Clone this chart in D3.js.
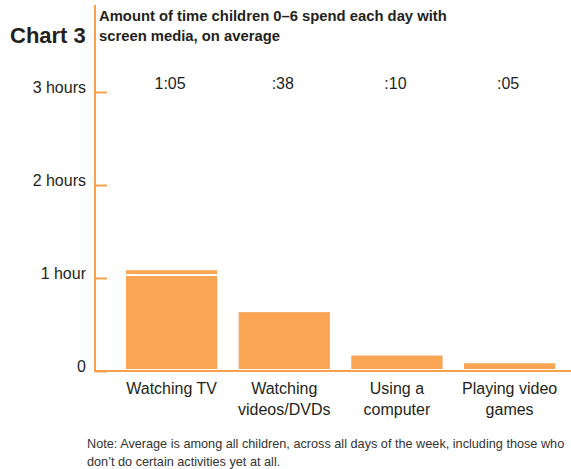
<!DOCTYPE html>
<html><head><meta charset="utf-8">
<script src="https://cdn.jsdelivr.net/npm/d3@7"></script>
<style>body{margin:0;background:#fff}svg{display:block;font-family:"Liberation Sans",Arial,sans-serif}</style>
</head><body><svg id="c" width="571" height="469"></svg>
<script>
const categories = [["Watching TV"], ["Watching", "videos/DVDs"], ["Using a", "computer"], ["Playing video", "games"]];
const minutes = [65, 38, 10, 5];
const valueLabels = ["1:05", ":38", ":10", ":05"];
const tvSplit = 62; // white divider line position in first bar (minutes)
const yTicks = [0, 60, 120, 180];
const yTickLabels = ["0", "1 hour", "2 hours", "3 hours"];
const titleLines = ["Amount of time children 0\u20136 spend each day with", "screen media, on average"];
const noteLines = ["Note: Average is among all children, across all days of the week, including those who", "don\u2019t do certain activities yet at all."];

const svg = d3.select("#c");
const orange = "#F9A553", axisC = "#F8A04C", txt = "#231F20";
const y = d3.scaleLinear().domain([0, 180]).range([371, 92]);
const x = d3.scaleBand().domain(d3.range(categories.length)).range([114.7, 566.5]).paddingInner(0.19).paddingOuter(0.1);

// chart label
svg.append("text").attr("x", 10).attr("y", 43).attr("font-size", 22).attr("font-weight", "bold").attr("fill", txt).text("Chart 3");
svg.selectAll(".title").data(titleLines).join("text").attr("x", 99).attr("y", (d, i) => 21 + i * 20)
  .attr("font-size", 14.8).attr("font-weight", "bold").attr("fill", txt).text(d => d);

// axis
svg.append("line").attr("x1", 95).attr("x2", 95).attr("y1", 5).attr("y2", 372).attr("stroke", axisC).attr("stroke-width", 2);
svg.append("line").attr("x1", 94).attr("x2", 571).attr("y1", 371).attr("y2", 371).attr("stroke", axisC).attr("stroke-width", 2);
const yAxis = d3.axisLeft(y).tickValues(yTicks).tickFormat((d, i) => yTickLabels[i]).tickSize(0);
const g = svg.append("g").attr("transform", "translate(95,0)").call(yAxis);
g.select(".domain").remove();
g.selectAll(".tick line").remove();
g.selectAll(".tick").append("line").attr("x1", 0).attr("x2", 12).attr("stroke", axisC).attr("stroke-width", 2);
g.selectAll(".tick text").attr("x", -9).attr("dy", "0").attr("font-size", 16).attr("fill", txt).attr("font-family", "Liberation Sans, Arial, sans-serif");

// bars
svg.selectAll(".bar").data(minutes).join("rect").attr("x", (d, i) => x(i)).attr("width", x.bandwidth())
  .attr("y", d => y(d)).attr("height", d => y(0) - 2 - y(d)).attr("fill", orange);
svg.append("line").attr("x1", x(0)).attr("x2", x(0) + x.bandwidth()).attr("y1", y(tvSplit)).attr("y2", y(tvSplit)).attr("stroke", "#fff").attr("stroke-width", 2);

// value labels
svg.selectAll(".vl").data(valueLabels).join("text").attr("x", (d, i) => x(i) + x.bandwidth() / 2 - 1.5).attr("y", 88.5)
  .attr("text-anchor", "middle").attr("font-size", 16).attr("fill", txt).text(d => d);

// category labels
categories.forEach((lines, i) => {
  lines.forEach((l, j) => {
    svg.append("text").attr("x", x(i) + x.bandwidth() / 2).attr("y", 394 + j * 21).attr("text-anchor", "middle")
      .attr("font-size", 16).attr("fill", txt).text(l);
  });
});

// note
svg.selectAll(".note").data(noteLines).join("text").attr("x", 87).attr("y", (d, i) => 447.5 + i * 18)
  .attr("font-size", 12.7).attr("fill", "#333").text(d => d);
</script></body></html>
